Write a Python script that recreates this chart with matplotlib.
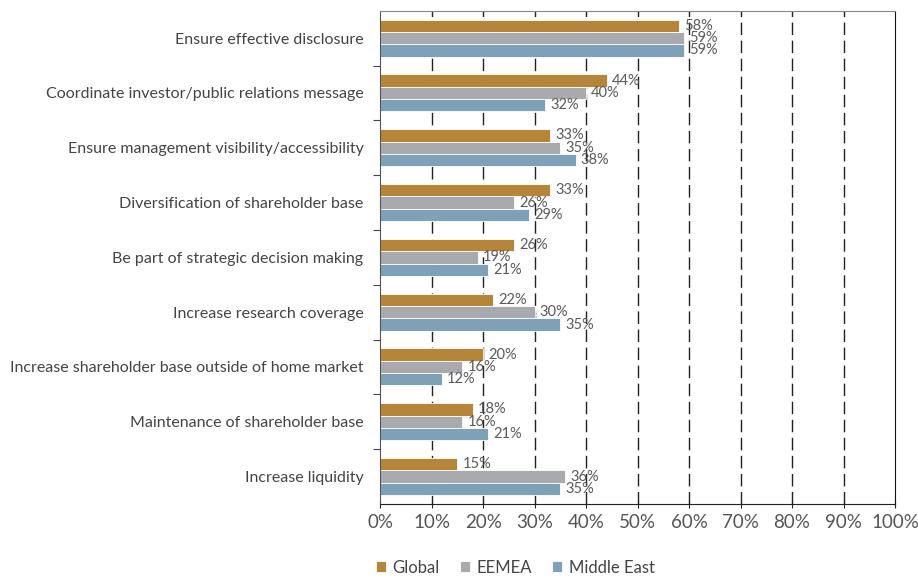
import matplotlib.pyplot as plt
import numpy as np
from matplotlib.ticker import FixedLocator, FuncFormatter

categories = [
    "Ensure effective disclosure",
    "Coordinate investor/public relations message",
    "Ensure management visibility/accessibility",
    "Diversification of shareholder base",
    "Be part of strategic decision making",
    "Increase research coverage",
    "Increase shareholder base outside of home market",
    "Maintenance of shareholder base",
    "Increase liquidity",
]
global_vals = [58, 44, 33, 33, 26, 22, 20, 18, 15]
eemea_vals = [59, 40, 35, 26, 19, 30, 16, 16, 36]
me_vals = [59, 32, 38, 29, 21, 35, 12, 21, 35]

series = [("Global", global_vals, "#B5863A"),
          ("EEMEA", eemea_vals, "#A9AAAD"),
          ("Middle East", me_vals, "#7FA1B8")]

plt.rcParams['font.family'] = ['Lato', 'DejaVu Sans']

fig = plt.figure(figsize=(9.18, 5.79), dpi=100)
ax = fig.add_axes([0.414, 0.1295, 0.561, 0.852])

y = np.arange(len(categories))
h = 0.225
for k, (name, vals, color) in enumerate(series):
    pos = y + (k - 1) * h
    ax.barh(pos, vals, height=h, color=color, edgecolor="white", linewidth=0.6,
            label=name, zorder=2)
    for p, v in zip(pos, vals):
        ax.text(v + 1.0, p, f"{v}%", va="center", ha="left", fontsize=10.5,
                color="#5a5a5a", zorder=3)

ax.set_xlim(0, 100)
ax.set_ylim(len(categories) - 0.5, -0.5)
ax.set_xticks(np.arange(0, 101, 10))
ax.xaxis.set_major_formatter(FuncFormatter(lambda v, _: f"{v:.0f}%"))
ax.tick_params(axis="x", direction="inout", length=6, width=0.8, colors="#222222",
               labelcolor="#555555", labelsize=13.5, pad=4)

ax.set_yticks(y)
ax.set_yticklabels(categories)
ax.tick_params(axis="y", which="major", length=0, labelsize=11.5, labelcolor="#444444", pad=12)
ax.yaxis.set_minor_locator(FixedLocator(np.arange(0.5, len(categories) - 1, 1)))
ax.tick_params(axis="y", which="minor", length=5, width=0.8, color="#444444")

for xv in np.arange(10, 100, 10):
    ax.axvline(xv, color="#222222", linestyle=(0, (9, 4)), linewidth=1.0, zorder=1)

ax.spines["top"].set_color("#888888")
ax.spines["right"].set_color("#111111")
ax.spines["left"].set_color("#555555")
ax.spines["bottom"].set_color("#222222")

handles, labels = ax.get_legend_handles_labels()
fig.legend(handles, labels, loc="lower left", bbox_to_anchor=(0.393, -0.02), ncol=3,
           frameon=False, fontsize=12, handlelength=0.6, handleheight=0.6,
           handletextpad=0.4, columnspacing=1.2, labelcolor="#444444")

fig.savefig("out.png", dpi=100)
